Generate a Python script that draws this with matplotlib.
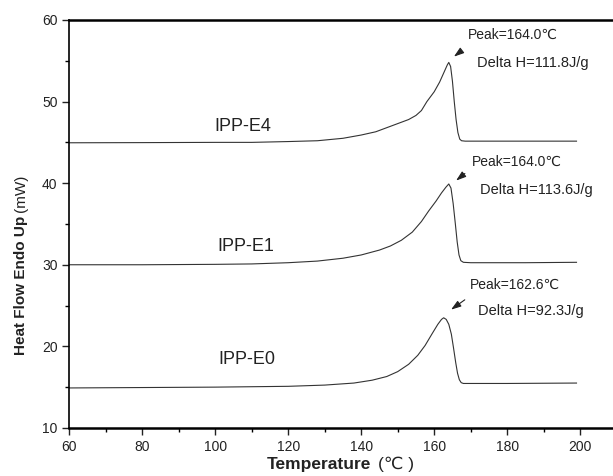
import numpy as np
import matplotlib.pyplot as plt
from matplotlib.ticker import MultipleLocator

plt.rcParams['font.family'] = ['Liberation Sans', 'DejaVu Sans']

# DSC curves (temperature in C, heat flow in mW)
t_e4 = [60, 80, 100, 110, 120, 128, 135, 140, 144, 147, 150, 153, 155, 156.5, 158,
        160, 161.5, 162.8, 163.6, 164.0, 164.5, 165.0, 165.5, 166.0, 166.5, 167.0,
        167.5, 168.5, 180, 199]
hf_e4 = [44.95, 44.97, 45.0, 45.0, 45.1, 45.2, 45.5, 45.9, 46.3, 46.8, 47.3, 47.8,
         48.3, 48.9, 50.0, 51.2, 52.4, 53.7, 54.5, 54.8, 54.3, 52.5, 50.0, 47.8,
         46.2, 45.4, 45.2, 45.15, 45.15, 45.15]

t_e1 = [60, 80, 100, 110, 120, 128, 135, 140, 145, 148, 151, 154, 156.5, 158.5,
        160.5, 162, 163.2, 164.0, 164.6, 165.2, 165.8, 166.3, 166.8, 167.3, 168,
        170, 185, 199]
hf_e1 = [30.0, 30.0, 30.05, 30.1, 30.25, 30.45, 30.8, 31.2, 31.8, 32.3, 33.0, 34.0,
         35.3, 36.6, 37.8, 38.8, 39.5, 39.9, 39.4, 37.5, 35.0, 32.8, 31.2, 30.5,
         30.3, 30.25, 30.25, 30.3]

t_e0 = [60, 80, 100, 120, 130, 138, 143, 147, 150, 153, 155.5, 157.5, 159.5, 161,
        162, 162.6, 163.3, 164.0, 164.7, 165.3, 165.9, 166.4, 166.9, 167.4, 168,
        180, 199]
hf_e0 = [14.9, 14.95, 15.0, 15.1, 15.25, 15.5, 15.85, 16.3, 16.9, 17.8, 18.9, 20.1,
         21.6, 22.7, 23.3, 23.5, 23.3, 22.7, 21.5, 19.8, 18.0, 16.7, 15.9, 15.55,
         15.45, 15.45, 15.5]

names = ['IPP-E4', 'IPP-E1', 'IPP-E0']
peaks = [164.0, 164.0, 162.6]
delta_h = [111.8, 113.6, 92.3]

fig = plt.figure(figsize=(6.13, 4.76), dpi=100)
ax = fig.add_axes([0.113, 0.101, 0.887, 0.857])

line_c = '#333333'
txt_c = '#222222'
ax.plot(t_e4, hf_e4, color=line_c, lw=0.8)
ax.plot(t_e1, hf_e1, color=line_c, lw=0.8)
ax.plot(t_e0, hf_e0, color=line_c, lw=0.8)

ax.set_xlim(60, 209)
ax.set_ylim(10, 60)
ax.xaxis.set_major_locator(MultipleLocator(20))
ax.xaxis.set_minor_locator(MultipleLocator(10))
ax.yaxis.set_major_locator(MultipleLocator(10))
ax.yaxis.set_minor_locator(MultipleLocator(5))
ax.tick_params(which='major', direction='out', length=5, width=1, labelsize=10,
               colors='#222222')
ax.tick_params(which='minor', direction='out', length=3, width=1)
ax.spines['right'].set_visible(False)
ax.spines['bottom'].set_linewidth(1.8)
ax.spines['top'].set_linewidth(1.8)
ax.spines['left'].set_linewidth(1.2)

# curve names
label_pos = [(107.6, 46.9), (108.3, 32.2), (108.7, 18.4)]
for name, (x, y) in zip(names, label_pos):
    ax.text(x, y, name, ha='center', va='center', fontsize=13, color=txt_c)

# peak annotations
peak_txt = [(169.3, 58.2), (170.2, 42.6), (169.8, 27.5)]
dh_txt = [(171.6, 54.7), (172.5, 39.2), (172.1, 24.3)]
arrows = [((168.0, 56.4), (164.8, 55.3)),
          ((169.0, 41.4), (165.4, 40.1)),
          ((169.0, 25.9), (164.0, 24.3))]
for pk, dh, p1, p2, (start, end) in zip(peaks, delta_h, peak_txt, dh_txt, arrows):
    ax.text(p1[0], p1[1], 'Peak=%.1f\u2103' % pk, ha='left', va='center',
            fontsize=10, color=txt_c)
    ax.text(p2[0], p2[1], 'Delta H=%.1fJ/g' % dh, ha='left', va='center',
            fontsize=10.5, color=txt_c)
    ax.annotate('', xy=end, xytext=start,
                arrowprops=dict(arrowstyle='-|>,head_length=0.6,head_width=0.2',
                                color='#222222', lw=0.8))

# axis titles: bold part + regular unit part
fig.text(0.606, 0.025, 'Temperature', ha='right', va='center', fontsize=12.5,
         fontweight='bold', color=txt_c)
fig.text(0.616, 0.025, '(\u2103 )', ha='left', va='center', fontsize=12.5,
         color=txt_c)

yb = fig.text(0.034, 0.255, 'Heat Flow Endo Up', rotation=90, ha='center',
              va='bottom', fontsize=11, fontweight='bold', color=txt_c)
fig.canvas.draw()
bb = yb.get_window_extent().transformed(fig.transFigure.inverted())
fig.text(0.034, bb.y1 + 0.008, '(mW)', rotation=90, ha='center', va='bottom',
         fontsize=11, color=txt_c)

fig.savefig('out.png', dpi=100)
